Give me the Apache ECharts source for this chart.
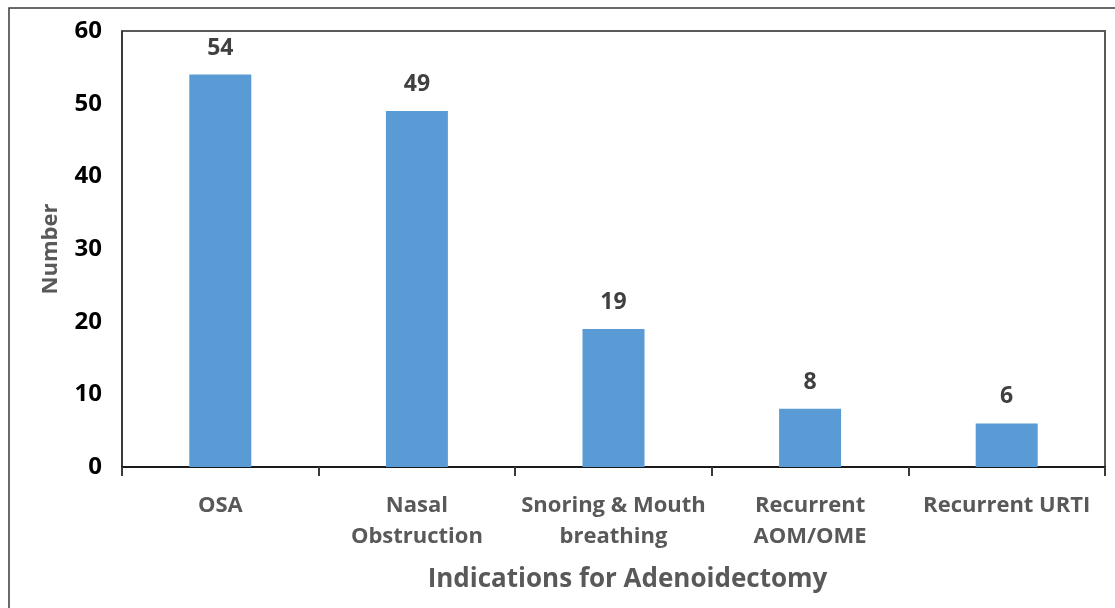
<!DOCTYPE html>
<html>
<head>
<meta charset="utf-8">
<script src="https://cdn.jsdelivr.net/npm/echarts@6/dist/echarts.min.js"></script>
<style>
  html, body { margin: 0; padding: 0; background: #ffffff; }
  #chart { width: 1115px; height: 608px; }
</style>
</head>
<body>
<div id="chart"></div>
<script>
// Indications for adenoidectomy, number of patients per indication
const categories = ['OSA', 'Nasal\nObstruction', 'Snoring & Mouth\nbreathing', 'Recurrent\nAOM/OME', 'Recurrent URTI'];
const counts = [54, 49, 19, 8, 6];
const yTicks = { min: 0, max: 60, interval: 10 };

const FONT = '"Open Sans", Lato, sans-serif';

const chart = echarts.init(document.getElementById('chart'));

chart.setOption({
  animation: false,
  backgroundColor: '#ffffff',
  grid: { left: 122, top: 31, right: 10, bottom: 141, show: false },
  graphic: [
    // outer frame around the figure
    {
      type: 'rect',
      shape: { x: 9, y: 8, width: 1200, height: 700 },
      style: { fill: 'none', stroke: '#3a3a3a', lineWidth: 1.5 },
      silent: true
    },
    // top and right edges of the plot box
    {
      type: 'polyline',
      shape: { points: [[122, 31], [1105, 31], [1105, 467]] },
      style: { fill: 'none', stroke: '#595959', lineWidth: 2 },
      silent: true
    }
  ],
  xAxis: {
    type: 'category',
    data: categories,
    name: 'Indications for Adenoidectomy',
    nameLocation: 'middle',
    nameGap: 100,
    nameTextStyle: {
      fontFamily: FONT, fontWeight: 'bold', fontSize: 26, color: '#595959',
      padding: [0, 0, 0, 28]
    },
    axisLine: { lineStyle: { color: '#1a1a1a', width: 2 } },
    axisTick: { show: true, alignWithLabel: false, length: 9, lineStyle: { color: '#3a3a3a', width: 2 } },
    axisLabel: {
      interval: 0, margin: 23,
      fontFamily: FONT, fontWeight: 'bold', fontSize: 22, color: '#595959', lineHeight: 31
    }
  },
  yAxis: {
    type: 'value',
    min: yTicks.min, max: yTicks.max, interval: yTicks.interval,
    name: 'Number',
    nameLocation: 'middle',
    nameGap: 60,
    nameTextStyle: { fontFamily: FONT, fontWeight: 'bold', fontSize: 22, color: '#595959' },
    splitLine: { show: false },
    axisLine: { show: true, lineStyle: { color: '#3a3a3a', width: 2 } },
    axisTick: { show: false },
    axisLabel: { margin: 20, fontFamily: FONT, fontWeight: 'bold', fontSize: 24, color: '#000000' }
  },
  series: [{
    type: 'bar',
    data: counts,
    barWidth: 62,
    itemStyle: { color: '#5B9BD5' },
    label: {
      show: true, position: 'top', distance: 15,
      fontFamily: FONT, fontWeight: 'bold', fontSize: 23, color: '#404040'
    }
  }]
});
</script>
</body>
</html>
